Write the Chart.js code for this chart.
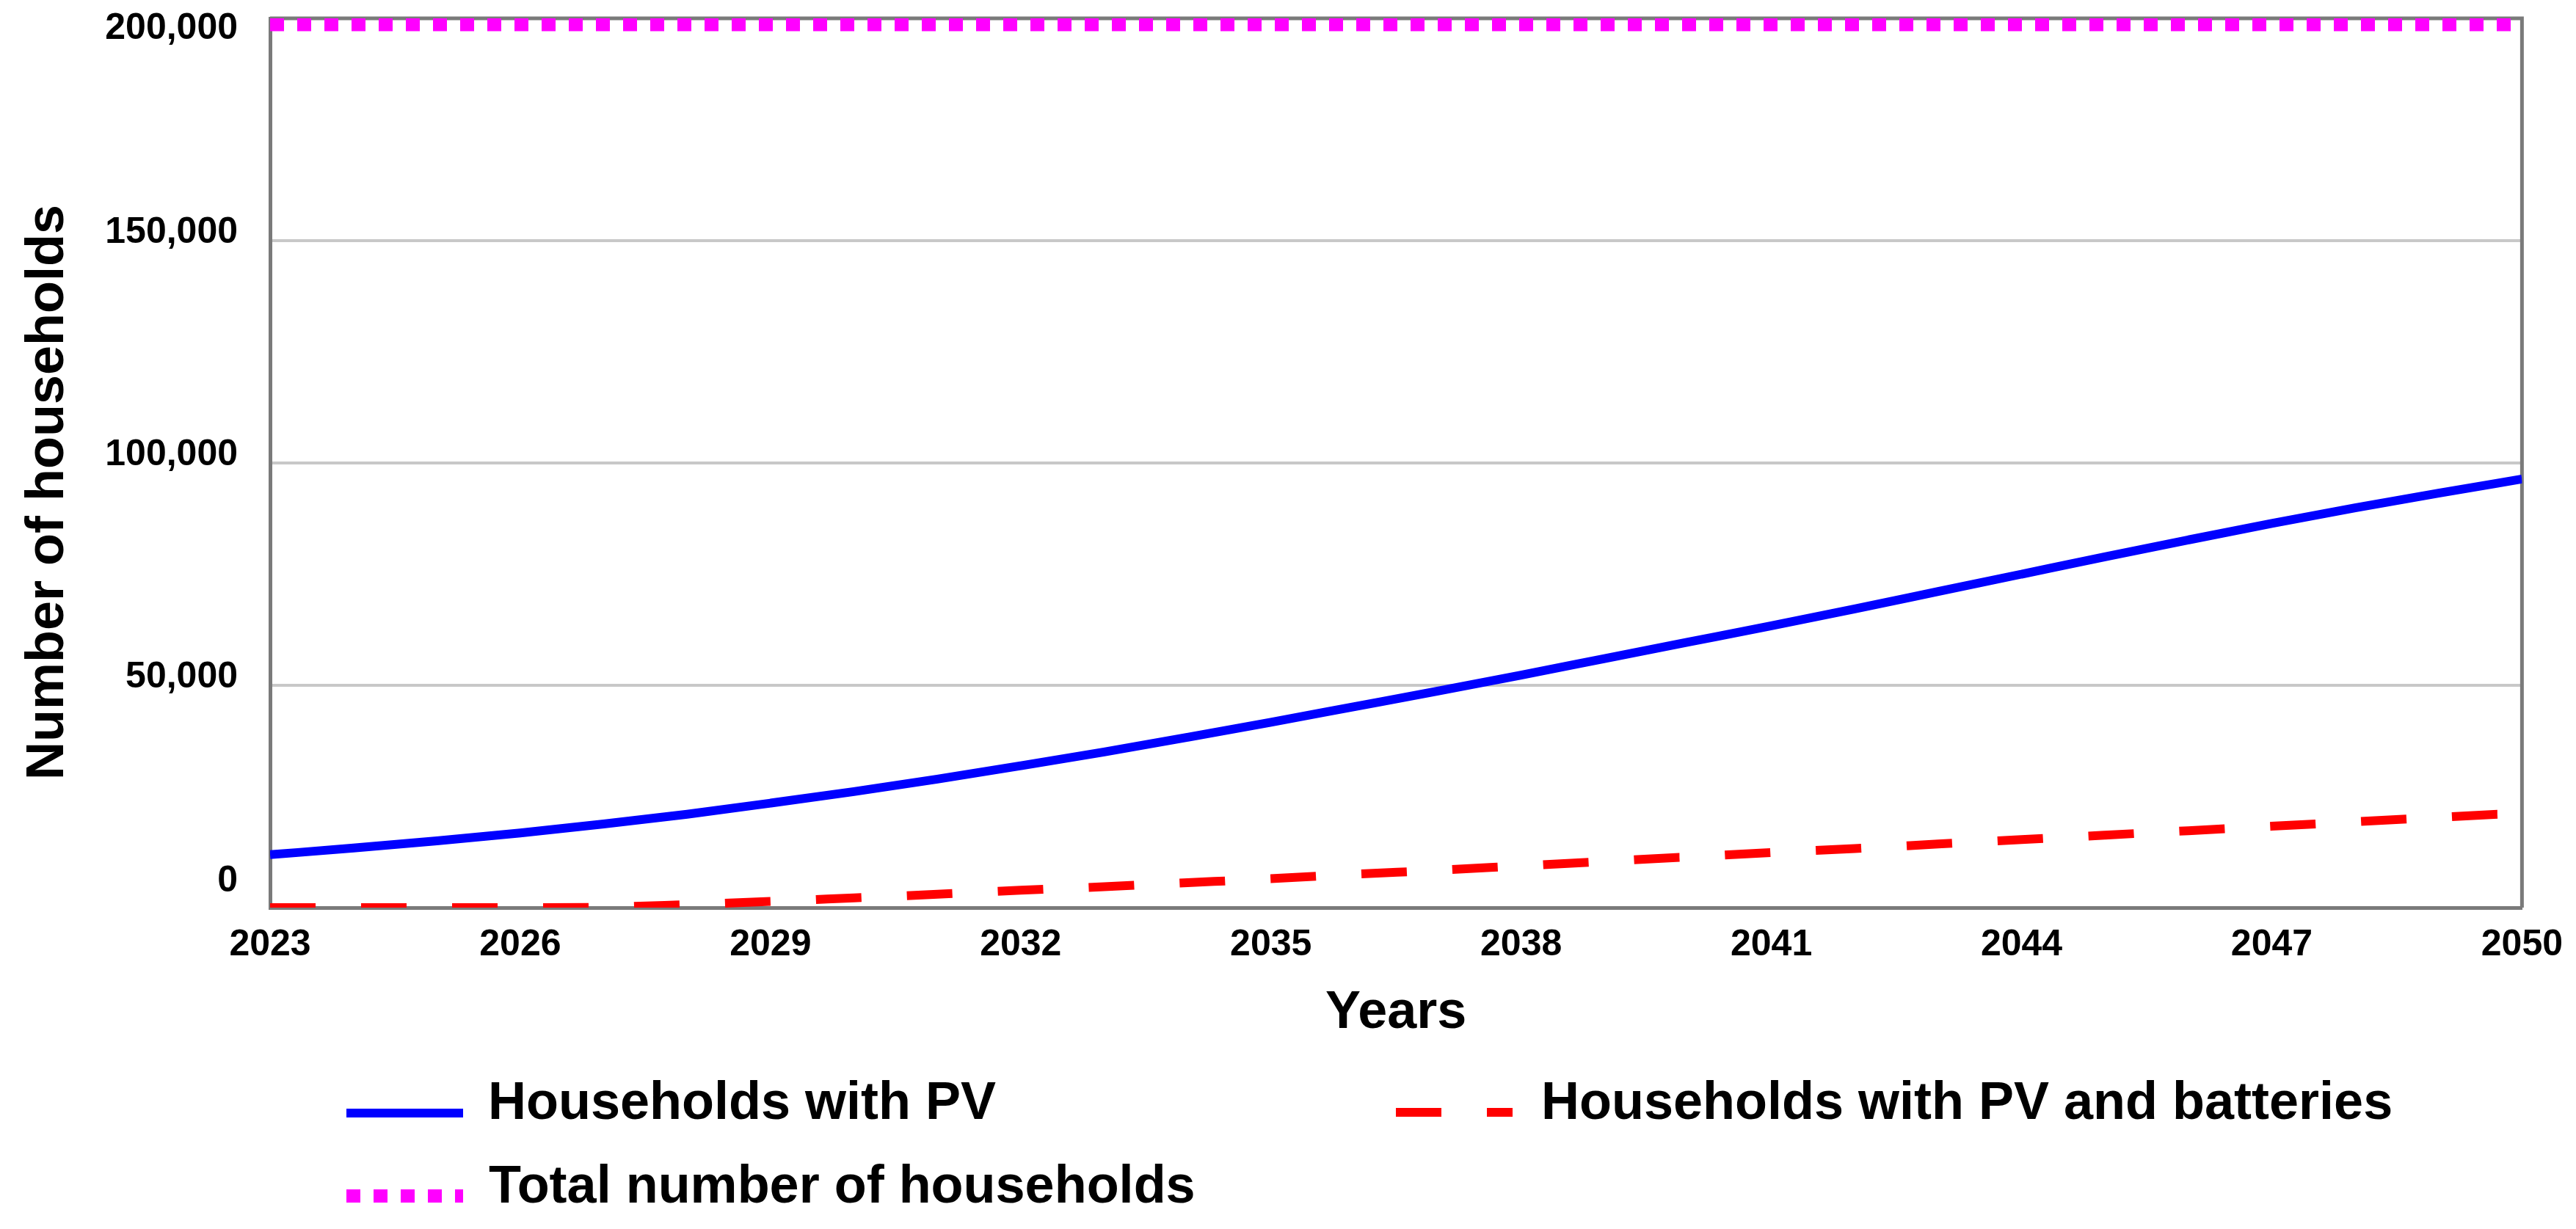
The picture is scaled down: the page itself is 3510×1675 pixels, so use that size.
<!DOCTYPE html>
<html>
<head>
<meta charset="utf-8">
<script src="https://cdn.jsdelivr.net/npm/chart.js@4.4.1/dist/chart.umd.min.js"></script>
<style>
    html, body { margin: 0; padding: 0; background: #fff; }
    #wrap { width: 3510px; height: 1675px; }
</style>
</head>
<body>
<div id="wrap"><canvas id="myChart"></canvas></div>
<script>
// data
const years = [2023, 2024, 2025, 2026, 2027, 2028, 2029, 2030, 2031, 2032, 2033, 2034, 2035, 2036,
    2037, 2038, 2039, 2040, 2041, 2042, 2043, 2044, 2045, 2046, 2047, 2048, 2049, 2050];
const pvHouseholds = [11900, 13400, 15000, 16800, 18800, 21000, 23500, 26100, 28900, 31900, 35000, 38300, 41700, 45200,
    48700, 52300, 56000, 59700, 63400, 67200, 71100, 75000, 78900, 82700, 86400, 89900, 93200, 96400];
const pvBatteryHouseholds = [0, 0, 0, 0, 100, 700, 1400, 2200, 3000, 3900, 4700, 5600, 6500, 7500,
    8400, 9400, 10400, 11400, 12400, 13300, 14300, 15300, 16300, 17300, 18300, 19300, 20300, 21300];
const totalHouseholds = [198600, 198600, 198600, 198600, 198600, 198600, 198600, 198600, 198600, 198600, 198600, 198600, 198600, 198600,
    198600, 198600, 198600, 198600, 198600, 198600, 198600, 198600, 198600, 198600, 198600, 198600, 198600, 198600];
const xTicks = [2023, 2026, 2029, 2032, 2035, 2038, 2041, 2044, 2047, 2050];
const yTicks = [0, 50000, 100000, 150000, 200000];

const fontFamily = "'Liberation Sans', Arial, sans-serif";
Chart.defaults.font.family = fontFamily;
Chart.defaults.font.weight = 'bold';
Chart.defaults.color = '#000';

function pts(values) {
    return years.map((y, i) => ({ x: y, y: values[i] }));
}

// legend spots (two columns, two rows like the original)
const legendSpots = [
    { x: 472, lineY: 1517, textX: 665, textY: 1505 },
    { x: 1902, lineY: 1516, textX: 2100, textY: 1505 },
    { x: 472, lineY: 1630, textX: 666, textY: 1619 }
];

const legendRows = {
    id: 'legendRows',
    afterDraw(chart) {
        const ctx = chart.ctx;
        chart.data.datasets.forEach((ds, i) => {
            const s = legendSpots[i];
            ctx.save();
            ctx.strokeStyle = ds.borderColor;
            ctx.lineWidth = ds.borderWidth;
            ctx.setLineDash(ds.borderDash || []);
            ctx.beginPath();
            ctx.moveTo(s.x, s.lineY);
            ctx.lineTo(s.x + 159, s.lineY);
            ctx.stroke();
            ctx.setLineDash([]);
            ctx.fillStyle = '#000';
            ctx.font = 'bold 72px ' + fontFamily;
            ctx.textBaseline = 'middle';
            ctx.textAlign = 'left';
            ctx.fillText(ds.label, s.textX, s.textY);
            ctx.restore();
        });
    }
};

// top and right edge of the plot box
const frame = {
    id: 'frame',
    beforeDatasetsDraw(chart) {
        const { ctx, chartArea: a } = chart;
        ctx.save();
        ctx.strokeStyle = '#7a7a7a';
        ctx.lineWidth = 5;
        ctx.beginPath();
        ctx.moveTo(a.left, a.top);
        ctx.lineTo(a.right, a.top);
        ctx.lineTo(a.right, a.bottom);
        ctx.stroke();
        ctx.restore();
    }
};

const ctx = document.getElementById('myChart');

new Chart(ctx, {
    type: 'line',
    data: {
        datasets: [{
            label: 'Households with PV',
            data: pts(pvHouseholds),
            borderColor: '#0000ff',
            borderWidth: 12,
            cubicInterpolationMode: 'monotone'
        }, {
            label: 'Households with PV and batteries',
            data: pts(pvBatteryHouseholds),
            borderColor: '#ff0000',
            borderWidth: 12,
            borderDash: [62, 62],
            cubicInterpolationMode: 'monotone'
        }, {
            label: 'Total number of households',
            data: pts(totalHouseholds),
            borderColor: '#ff00ff',
            borderWidth: 18,
            borderDash: [19, 18]
        }]
    },
    options: {
        responsive: true,
        maintainAspectRatio: false,
        devicePixelRatio: 1,
        animation: false,
        elements: { point: { radius: 0 }, line: { borderCapStyle: 'butt' } },
        layout: { padding: { top: 25, right: 70, bottom: 238, left: 0 } },
        plugins: {
            legend: { display: false },
            tooltip: { enabled: false }
        },
        scales: {
            x: {
                type: 'linear',
                min: 2023,
                max: 2050,
                afterBuildTicks: s => { s.ticks = xTicks.map(v => ({ value: v })); },
                afterFit: s => { s.height = 200; },
                grid: { display: false },
                border: { display: true, color: '#7a7a7a', width: 5 },
                ticks: {
                    padding: 18,
                    font: { size: 50, weight: 'bold', lineHeight: 1 },
                    maxRotation: 0,
                    callback: v => String(v)
                },
                title: {
                    display: true,
                    text: 'Years',
                    font: { size: 72, weight: 'bold' },
                    padding: { top: 0, bottom: 13 }
                }
            },
            y: {
                min: 0,
                max: 200000,
                afterBuildTicks: s => { s.ticks = yTicks.map(v => ({ value: v })); },
                afterFit: s => {
                    s.width = 368;
                    s.paddingTop = 0;
                    s.paddingBottom = 0;
                },
                grid: { color: '#c8c8c8', lineWidth: 4, drawTicks: false },
                border: { display: true, color: '#7a7a7a', width: 5 },
                ticks: {
                    padding: 44,
                    labelOffset: -11,
                    font: { size: 50, weight: 'bold', lineHeight: 1 },
                    // the original nudges the end labels inside the box
                    callback: v => {
                        const t = v.toLocaleString('en-US');
                        if (v === 0) return [t, ''];
                        if (v === 200000) return ['', t];
                        return t;
                    }
                },
                title: {
                    display: true,
                    text: 'Number of households    ',
                    font: { size: 72, weight: 'bold' },
                    padding: { top: 23, bottom: 0 }
                }
            }
        }
    },
    plugins: [frame, legendRows]
});
</script>
</body>
</html>
